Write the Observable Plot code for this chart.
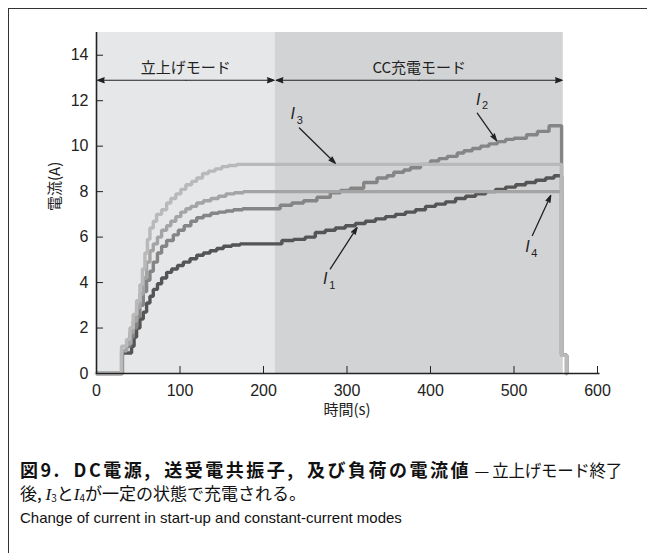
<!DOCTYPE html>
<html><head><meta charset="utf-8">
<script src="https://cdn.jsdelivr.net/npm/d3@7"></script>
<script src="https://cdn.jsdelivr.net/npm/@observablehq/plot@0.6"></script>
<style>
body{margin:0;background:#fff;}
#wrap{position:relative;width:647px;height:553px;overflow:hidden;font-family:"Liberation Sans","Noto Sans CJK JP",sans-serif;color:#111;}
#frame{position:absolute;left:8px;top:8px;width:800px;height:700px;border-left:1px solid #333;border-top:1px solid #333;}
#chart{position:absolute;left:0;top:0;}
.cap{position:absolute;left:20px;white-space:nowrap;font-family:"Noto Sans CJK JP",sans-serif;}
#cap1{top:457px;font-size:18px;line-height:24px;}
#cap1 b{font-weight:700;letter-spacing:2.5px;word-spacing:5px;}
#cap1 span{font-weight:400;font-size:16.5px;letter-spacing:-0.3px;}
#cap2{top:481px;font-size:17px;line-height:24px;}
#cap2 i{font-family:"Liberation Serif",serif;font-style:italic;}
#cap2 sub{font-size:10px;vertical-align:-2px;}
#cap3{top:508px;font-size:15px;line-height:20px;font-family:"Liberation Sans",sans-serif;}
</style></head>
<body>
<div id="wrap">
<div id="frame"></div>
<div id="chart"></div>
<div class="cap" id="cap1"><b>図9. DC電源, 送受電共振子, 及び負荷の電流値</b><span> — 立上げモード終了</span></div>
<div class="cap" id="cap2">後, <i>I</i><sub>3</sub>と<i>I</i><sub>4</sub>が一定の状態で充電される。</div>
<div class="cap" id="cap3">Change of current in start-up and constant-current modes</div>
</div>
<script>
// ---- data ----
const xTicks = [0,100,200,300,400,500,600];
const yTicks = [0,2,4,6,8,10,12,14];
const xLabel = "時間(s)";
const yLabel = "電流(A)";

const modeNames = ["立上げモード","CC充電モード"];
const modeStart = [0,214];
const modeEnd = [214,559];
const modeArrowY = 12.9;
const modeLabelY = 13.45;

const seriesNames = ["I1","I2","I4","I3"];
const tI1 = [0,31,42,45,48,52,56,60,64,68,73,78,84,90,97,104,112,120,128,136,144,152,162,172,222,236,250,262,274,286,298,310,322,334,346,358,370,382,394,406,418,430,442,454,466,478,490,502,514,526,538,548,557,563];
const vI1 = [0,0.9,1.2,1.6,2.0,2.4,2.7,3.1,3.4,3.7,3.95,4.2,4.45,4.6,4.75,4.9,5.05,5.2,5.3,5.4,5.5,5.6,5.65,5.7,5.85,5.9,6.0,6.2,6.3,6.4,6.5,6.6,6.7,6.8,6.9,7.0,7.1,7.2,7.35,7.45,7.55,7.7,7.8,7.9,8.0,8.1,8.2,8.3,8.4,8.5,8.6,8.7,0.8,0];
const tI2 = [0,31,36,40,44,48,52,56,60,64,68,73,78,84,92,98,105,113,120,128,137,146,155,164,175,220,234,248,264,280,292,304,320,336,348,356,368,376,388,400,410,420,432,440,450,460,470,480,490,500,515,528,542,557,563];
const vI2 = [0,1.0,1.2,1.6,2.0,2.5,3.0,3.6,4.1,4.5,4.9,5.3,5.6,5.85,6.1,6.3,6.5,6.7,6.85,6.95,7.05,7.1,7.15,7.2,7.25,7.4,7.5,7.6,7.75,7.95,8.05,8.15,8.4,8.6,8.7,8.85,8.95,9.05,9.2,9.35,9.45,9.55,9.7,9.8,9.9,10.0,10.1,10.2,10.3,10.35,10.5,10.65,10.9,0.8,0];
const tI3 = [0,30,36,40,44,48,52,55,58,61,64,68,72,78,84,89,95,101,107,114,120,127,134,142,150,158,168,557,563];
const vI3 = [0,1.2,1.5,2.0,2.6,3.2,3.9,4.6,5.3,5.9,6.4,6.7,7.0,7.2,7.5,7.7,7.9,8.1,8.3,8.45,8.6,8.8,8.9,9.0,9.1,9.15,9.2,0.8,0];
const tI4 = [0,30,36,40,44,48,52,56,60,64,68,73,78,84,89,95,101,107,113,120,128,137,146,155,165,176,557,563];
const vI4 = [0,1.0,1.3,1.8,2.3,2.9,3.5,4.2,4.9,5.4,5.7,6.0,6.3,6.5,6.7,6.9,7.1,7.25,7.35,7.5,7.6,7.7,7.8,7.9,7.95,8.0,0.8,0];

// curve labels: subscript, label position, arrow start/end
const labelSub = ["1","2","3","4"];
const labelT = [274,457,235,516];
const labelV = [4.15,12.05,11.4,5.55];
const arrT1 = [280,456,243,522];
const arrV1 = [4.6,11.45,10.8,6.07];
const arrT2 = [312,479,286,544];
const arrV2 = [6.42,10.25,9.25,7.83];

// ---- styles ----
const seriesColors = {I1:"#555555", I2:"#858585", I3:"#b9b9b9", I4:"#a4a4a4"};
const modeColors = ["#e6e7e9","#d2d3d5"];
const ink = "#222222";

const seriesData = {I1:[tI1,vI1], I2:[tI2,vI2], I3:[tI3,vI3], I4:[tI4,vI4]};
const rows = [];
for (const name of seriesNames) {
  const [ts, vs] = seriesData[name];
  ts.forEach((t,i) => rows.push({s:name, t, v:vs[i]}));
}
const modes = modeNames.map((n,i) => ({n, a:modeStart[i], b:modeEnd[i], mid:(modeStart[i]+modeEnd[i])/2, c:modeColors[i]}));
const labels = labelSub.map((s,i) => ({s, t:labelT[i], v:labelV[i], t1:arrT1[i], v1:arrV1[i], t2:arrT2[i], v2:arrV2[i]}));

const font = "Liberation Sans, Noto Sans CJK JP, sans-serif";
const chart = Plot.plot({
  width: 647, height: 430,
  marginLeft: 96, marginRight: 50, marginTop: 32, marginBottom: 57,
  style: {fontFamily: font, fontSize: "16px", color: ink, background: "transparent"},
  x: {domain: [0,600], axis: null},
  y: {domain: [0,15], axis: null},
  color: {domain: Object.keys(seriesColors), range: Object.values(seriesColors)},
  marks: [
    Plot.rect(modes, {x1:"a", x2:"b", y1: () => 0, y2: () => 15, fill: d => d.c}),
    Plot.line(rows, {x:"t", y:"v", z:"s", stroke:"s", curve:"step-after", strokeWidth:3.4, strokeLinejoin:"miter"}),
    // mode arrows (double headed)
    Plot.arrow(modes, {x1:"mid", x2:"a", y1: () => modeArrowY, y2: () => modeArrowY, stroke: ink, strokeWidth: 1.2, headLength: 9, headAngle: 40, insetEnd: 1}),
    Plot.arrow(modes, {x1:"mid", x2:"b", y1: () => modeArrowY, y2: () => modeArrowY, stroke: ink, strokeWidth: 1.2, headLength: 9, headAngle: 40, insetEnd: 1}),
    Plot.text(modes, {x:"mid", y: () => modeLabelY, text:"n", fontSize: 15, fill: ink, fontFamily: "Noto Sans CJK JP, sans-serif"}),
    // curve labels
    Plot.arrow(labels, {x1:"t1", y1:"v1", x2:"t2", y2:"v2", stroke: ink, strokeWidth: 1.3, headLength: 8, headAngle: 35}),
    Plot.text(labels, {x:"t", y:"v", text: () => "I", fontStyle:"italic", fontSize: 16, fill: ink}),
    Plot.text(labels, {x:"t", y:"v", text:"s", fontSize: 11, dx: 7, dy: 6, fill: ink}),
    // axes
    Plot.axisY({ticks: yTicks, tickSize: -7, tickFormat: () => "", stroke: ink}),
    Plot.axisY({ticks: yTicks, tickSize: 0, tickPadding: 8, label: null, fill: ink, fontSize: 16}),
    Plot.axisX({ticks: xTicks, tickSize: -7, tickFormat: () => "", stroke: ink}),
    Plot.axisX({ticks: xTicks, tickSize: 0, tickPadding: 11, label: null, fill: ink, fontSize: 16}),
    Plot.ruleX([0], {stroke: ink, strokeWidth: 1.6}),
    Plot.ruleY([0], {x1: () => 0, x2: () => 603, stroke: ink, strokeWidth: 1.6}),
    Plot.text([yLabel], {frameAnchor: "left", rotate: -90, dx: -41, dy: 8, fontSize: 15, fill: ink, fontFamily: "Noto Sans CJK JP, sans-serif"}),
    Plot.text([xLabel], {frameAnchor: "bottom", dy: 41, fontSize: 15, fill: ink, fontFamily: "Noto Sans CJK JP, sans-serif"})
  ]
});
// filled arrowheads: the open V of each head closes into a triangle when filled
chart.querySelectorAll('g[aria-label="arrow"] path').forEach(p => { p.setAttribute("fill", ink); p.setAttribute("stroke-linejoin", "miter"); });
document.getElementById("chart").appendChild(chart);
</script>
</body></html>
